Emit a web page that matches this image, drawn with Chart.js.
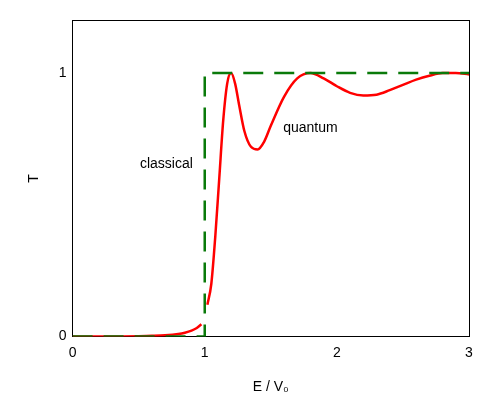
<!DOCTYPE html>
<html>
<head>
<script src="https://cdn.jsdelivr.net/npm/chart.js@4"></script>
<style>body{margin:0;background:#fff}#wrap{width:500px;height:400px}</style>
</head>
<body>
<div id="wrap"><canvas id="c"></canvas></div>
<script>
const quantumE = [0, 0.3, 0.5, 0.6, 0.7, 0.8, 0.85, 0.9, 0.94, 0.975, null, 1.02, 1.05, 1.08, 1.11, 1.14, 1.17, 1.2, 1.23, 1.26, 1.3, 1.35, 1.4, 1.45, 1.5, 1.6, 1.7, 1.8, 1.9, 2.0, 2.1, 2.2, 2.3, 2.4, 2.5, 2.6, 2.7, 2.8, 2.9, 3.0];
const quantumT = [0, 0, 0.001, 0.002, 0.004, 0.009, 0.014, 0.022, 0.032, 0.046, null, 0.12, 0.2, 0.38, 0.6, 0.82, 0.96, 1.0, 0.96, 0.88, 0.78, 0.72, 0.71, 0.74, 0.8, 0.91, 0.98, 1.0, 0.98, 0.95, 0.925, 0.915, 0.918, 0.935, 0.955, 0.975, 0.99, 1.0, 1.0, 0.995];
const classicalE = [0, 1, 1, 3];
const classicalT = [0, 0, 1, 1];
const xTicks = [0, 1, 2, 3];
const yTicks = [0, 1];

const pts = (xs, ys) => xs.map((x, i) => x === null ? {x: NaN, y: null} : {x: x, y: ys[i]});

const labelsPlugin = {
  id: 'labels',
  afterDatasetsDraw(chart) {
    const {ctx, scales: {x, y}} = chart;
    ctx.save();
    ctx.fillStyle = '#000';
    ctx.font = '14px "Liberation Sans", Arial, sans-serif';
    ctx.textBaseline = 'middle';
    ctx.textAlign = 'center';
    ctx.fillText('classical', x.getPixelForValue(0.71), y.getPixelForValue(0.655));
    ctx.fillText('quantum', x.getPixelForValue(1.8), y.getPixelForValue(0.79));
    ctx.restore();
  }
};

new Chart(document.getElementById('c'), {
  type: 'line',
  data: {
    datasets: [
      {
        data: pts(classicalE, classicalT),
        borderColor: '#0a7a0a',
        borderWidth: 2.5,
        borderDash: [20, 11],
        pointRadius: 0,
        tension: 0
      },
      {
        data: pts(quantumE, quantumT),
        borderColor: '#ff0000',
        borderWidth: 2.5,
        pointRadius: 0,
        spanGaps: false,
        cubicInterpolationMode: 'monotone'
      }
    ]
  },
  options: {
    responsive: true,
    maintainAspectRatio: false,
    animation: false,
    layout: {padding: {top: 12, right: 23, left: 22, bottom: 0}},
    plugins: {legend: {display: false}, tooltip: {enabled: false}},
    scales: {
      x: {
        type: 'linear', min: 0, max: 3,
        afterBuildTicks: s => { s.ticks = xTicks.map(v => ({value: v})); },
        grid: {display: false, drawOnChartArea: false, tickLength: -6},
        border: {color: '#000'},
        ticks: {color: '#000', font: {size: 14, family: 'Liberation Sans'}, padding: 14},
        title: {display: true, text: 'E / V₀', color: '#000', font: {size: 14, family: 'Liberation Sans'}}
      },
      y: {
        type: 'linear', min: 0, max: 1.2,
        afterBuildTicks: s => { s.ticks = yTicks.map(v => ({value: v})); },
        grid: {display: false, tickLength: -6},
        border: {color: '#000'},
        ticks: {color: '#000', font: {size: 14, family: 'Liberation Sans'}, padding: 12},
        title: {display: true, text: 'T', color: '#000', font: {size: 14, family: 'Liberation Sans'}}
      },
      x2: {position: 'top', type: 'linear', min: 0, max: 3, grid: {display: false}, ticks: {display: false}, border: {color: '#000'}},
      y2: {position: 'right', type: 'linear', min: 0, max: 1.2, grid: {display: false}, ticks: {display: false}, border: {color: '#000'}}
    }
  },
  plugins: [labelsPlugin]
});
</script>
</body>
</html>
